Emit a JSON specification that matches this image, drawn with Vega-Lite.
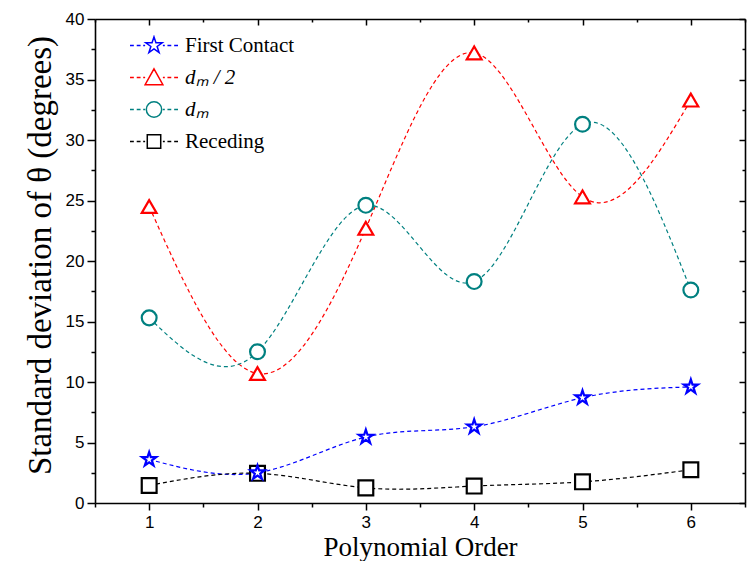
{
  "$schema": "https://vega.github.io/schema/vega-lite/v6.json",
  "width": 650,
  "height": 484,
  "autosize": "none",
  "padding": {"left": 95, "top": 19, "right": 4, "bottom": 58},
  "background": "white",
  "config": {
    "view": {"stroke": null},
    "axis": {
      "grid": false,
      "domainColor": "black",
      "domainWidth": 1.6,
      "tickColor": "black",
      "tickWidth": 1.5,
      "labelFont": "Liberation Sans",
      "labelFontSize": 17,
      "labelColor": "black",
      "labelFlush": false,
      "labelOverlap": false,
      "titleFont": "Liberation Serif",
      "titleFontWeight": "normal",
      "titleColor": "black"
    },
    "legend": {"padding": 0},
    "point": {"filled": true, "fill": "white", "opacity": 1, "strokeWidth": 2.2, "size": 220}
  },
  "data": {
    "values": [
      {"order": 1, "series": "First Contact", "sd": 3.6},
      {"order": 2, "series": "First Contact", "sd": 2.5},
      {"order": 3, "series": "First Contact", "sd": 5.45},
      {"order": 4, "series": "First Contact", "sd": 6.3},
      {"order": 5, "series": "First Contact", "sd": 8.7},
      {"order": 6, "series": "First Contact", "sd": 9.6},
      {"order": 1, "series": "dₘ / 2", "sd": 24.5},
      {"order": 2, "series": "dₘ / 2", "sd": 10.7},
      {"order": 3, "series": "dₘ / 2", "sd": 22.7},
      {"order": 4, "series": "dₘ / 2", "sd": 37.2},
      {"order": 5, "series": "dₘ / 2", "sd": 25.3},
      {"order": 6, "series": "dₘ / 2", "sd": 33.3},
      {"order": 1, "series": "dₘ", "sd": 15.3},
      {"order": 2, "series": "dₘ", "sd": 12.5},
      {"order": 3, "series": "dₘ", "sd": 24.6},
      {"order": 4, "series": "dₘ", "sd": 18.3},
      {"order": 5, "series": "dₘ", "sd": 31.3},
      {"order": 6, "series": "dₘ", "sd": 17.6},
      {"order": 1, "series": "Receding", "sd": 1.45},
      {"order": 2, "series": "Receding", "sd": 2.45},
      {"order": 3, "series": "Receding", "sd": 1.25},
      {"order": 4, "series": "Receding", "sd": 1.4},
      {"order": 5, "series": "Receding", "sd": 1.75},
      {"order": 6, "series": "Receding", "sd": 2.75}
    ]
  },
  "layer": [
    {
      "mark": {"type": "line", "interpolate": "natural", "strokeWidth": 1.2, "strokeDash": [4, 3]},
      "encoding": {
        "x": {
          "field": "order", "type": "quantitative",
          "scale": {"domain": [0.5, 6.5], "nice": false, "zero": false},
          "axis": {
            "orient": "bottom",
            "values": [0.5, 1, 1.5, 2, 2.5, 3, 3.5, 4, 4.5, 5, 5.5, 6, 6.5],
            "tickSize": {"condition": {"test": "datum.value % 1 === 0", "value": 7}, "value": 4},
            "labelExpr": "datum.value % 1 === 0 ? format(datum.value, 'd') : ''",
            "labelPadding": 4,
            "title": "Polynomial Order",
            "titleFont": "Liberation Serif",
            "titleFontSize": 27,
            "titlePadding": 4
          }
        },
        "y": {
          "field": "sd", "type": "quantitative",
          "scale": {"domain": [0, 40], "nice": false, "zero": true},
          "axis": {
            "orient": "left",
            "values": [0, 2.5, 5, 7.5, 10, 12.5, 15, 17.5, 20, 22.5, 25, 27.5, 30, 32.5, 35, 37.5, 40],
            "tickSize": {"condition": {"test": "datum.value % 5 === 0", "value": 8}, "value": 4},
            "labelExpr": "datum.value % 5 === 0 ? format(datum.value, 'd') : ''",
            "labelPadding": 3,
            "title": "Standard deviation of θ (degrees)",
            "titleFont": "Liberation Serif",
            "titleFontSize": 33,
            "titlePadding": 8,
            "titleY": 236
          }
        },
        "color": {
          "field": "series", "type": "nominal",
          "scale": {
            "domain": ["First Contact", "dₘ / 2", "dₘ", "Receding"],
            "range": ["#0000ff", "#ff0000", "#008080", "#000000"]
          },
          "legend": {
            "orient": "none", "legendX": 34, "legendY": 16,
            "title": null,
            "symbolSize": 2304, "symbolStrokeWidth": 1.5, "symbolFillColor": "white", "symbolOpacity": 1,
            "clipHeight": 21,
            "labelFont": "Liberation Serif", "labelFontSize": 21, "labelColor": "black",
            "labelOffset": 6, "rowPadding": 10, "labelLimit": 300,
            "encode": {
              "labels": {"update": {"fontStyle": {"signal": "datum.label === 'First Contact' || datum.label === 'Receding' ? 'normal' : 'italic'"}}},
              "symbols": {"update": {"shape": {"signal": "'M-1,0L-0.84,0M-0.72,0L-0.56,0M-0.45,0L-0.37,0M0.37,0L0.45,0M0.56,0L0.72,0M0.84,0L1,0' + (datum.value === 'First Contact' ? 'M0,-0.36L0.081,-0.111L0.342,-0.111L0.131,0.042L0.212,0.291L0,0.138L-0.212,0.291L-0.131,0.042L-0.342,-0.111L-0.081,-0.111Z' : datum.value === 'Receding' ? 'M-0.28,-0.28L0.28,-0.28L0.28,0.28L-0.28,0.28Z' : datum.value === 'dₘ' ? 'M0.32,0A0.32,0.32 0 1,1 -0.32,0A0.32,0.32 0 1,1 0.32,0Z' : 'M0,-0.36L0.37,0.3L-0.37,0.3Z')"}}}
            }
          }
        }
      }
    },
    {
      "transform": [{"filter": "datum.series === 'dₘ / 2'"}],
      "mark": {"type": "point", "shape": "triangle-up", "stroke": "#ff0000"},
      "encoding": {
        "x": {
          "field": "order", "type": "quantitative",
          "axis": {
            "orient": "top",
            "values": [0.5, 1, 1.5, 2, 2.5, 3, 3.5, 4, 4.5, 5, 5.5, 6, 6.5],
            "tickSize": {"condition": {"test": "datum.value % 1 === 0", "value": -6}, "value": -3},
            "labels": false, "title": null
          }
        },
        "y": {
          "field": "sd", "type": "quantitative",
          "axis": {
            "orient": "right",
            "values": [0, 2.5, 5, 7.5, 10, 12.5, 15, 17.5, 20, 22.5, 25, 27.5, 30, 32.5, 35, 37.5, 40],
            "tickSize": {"condition": {"test": "datum.value % 5 === 0", "value": -6}, "value": -3},
            "labels": false, "title": null
          }
        }
      }
    },
    {
      "transform": [{"filter": "datum.series === 'dₘ'"}],
      "mark": {"type": "point", "shape": "circle", "stroke": "#008080"},
      "encoding": {
        "x": {"field": "order", "type": "quantitative", "axis": null},
        "y": {"field": "sd", "type": "quantitative", "axis": null}
      }
    },
    {
      "transform": [{"filter": "datum.series === 'Receding'"}],
      "mark": {"type": "point", "shape": "square", "stroke": "#000000"},
      "encoding": {
        "x": {"field": "order", "type": "quantitative", "axis": null},
        "y": {"field": "sd", "type": "quantitative", "axis": null}
      }
    },
    {
      "transform": [{"filter": "datum.series === 'First Contact'"}],
      "mark": {"type": "point", "shape": "M0,-1L0.2245,-0.309L0.951,-0.309L0.363,0.118L0.588,0.809L0,0.382L-0.588,0.809L-0.363,0.118L-0.951,-0.309L-0.2245,-0.309Z", "stroke": "#0000ff"},
      "encoding": {
        "x": {"field": "order", "type": "quantitative", "axis": null},
        "y": {"field": "sd", "type": "quantitative", "axis": null}
      }
    }
  ]
}
